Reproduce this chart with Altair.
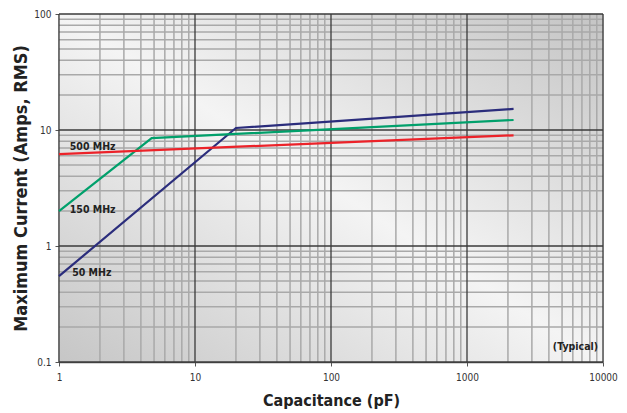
import altair as alt
import pandas as pd

# ---- data ----
cap_50 = [1, 20, 2200]
cur_50 = [0.55, 10.4, 15.2]
cap_150 = [1, 4.8, 2200]
cur_150 = [2.0, 8.5, 12.2]
cap_500 = [1, 2200]
cur_500 = [6.2, 9.0]

series_names = ["50 MHz", "150 MHz", "500 MHz"]
series_colors = ["#2b2d7c", "#00a06b", "#ec2229"]

label_text = ["500 MHz", "150 MHz", "50 MHz"]
label_x = [1.2, 1.2, 1.25]
label_y = [7.1, 2.04, 0.585]

x_major = [1, 10, 100, 1000, 10000]
y_major = [0.1, 1, 10, 100]
x_minor = [m * d for d in [1, 10, 100, 1000] for m in range(2, 10)]
y_minor = [m * d for d in [0.1, 1, 10] for m in range(2, 10)]

W, H = 544, 348
FONT = "DejaVu Sans Condensed, Liberation Sans, sans-serif"

xs = alt.Scale(type="log", domain=[1, 10000], nice=False)
ys = alt.Scale(type="log", domain=[0.1, 100], nice=False)

xaxis = alt.Axis(
    values=x_major, format="~g", title="Capacitance (pF)", grid=False,
    domainColor="#555", domainWidth=1.5, tickColor="#555", tickSize=4,
    labelFont=FONT, labelFontSize=10, labelColor="#333", labelPadding=6,
    titleFont=FONT, titleFontSize=16, titleFontWeight="bold", titleColor="#222",
    titlePadding=10, labelFlush=False,
)
yaxis = alt.Axis(
    values=y_major, format="~g", title="Maximum Current (Amps, RMS)", grid=False,
    domainColor="#555", domainWidth=1.5, tickColor="#555", tickSize=4,
    labelFont=FONT, labelFontSize=10, labelColor="#333", labelPadding=4,
    titleFont=FONT, titleFontSize=18, titleFontWeight="bold", titleColor="#222",
    titlePadding=3, labelFlush=False,
)

bg = alt.Chart(pd.DataFrame({"a": [0]})).mark_rect(
    fill=alt.LinearGradient(
        gradient="linear",
        stops=[
            alt.GradientStop(color="#c6c6c6", offset=0),
            alt.GradientStop(color="#f4f4f4", offset=0.5),
            alt.GradientStop(color="#c4c4c4", offset=1),
        ],
        x1=0, y1=1, x2=1, y2=0,
    )
).encode(x=alt.value(0), x2=alt.value(W), y=alt.value(0), y2=alt.value(H))

xminor = alt.Chart(pd.DataFrame({"v": x_minor})).mark_rule(
    color="#a9a9a9", strokeWidth=1.5
).encode(x=alt.X("v:Q", scale=xs, axis=xaxis))
yminor = alt.Chart(pd.DataFrame({"v": y_minor})).mark_rule(
    color="#a9a9a9", strokeWidth=1.5
).encode(y=alt.Y("v:Q", scale=ys, axis=yaxis))
xmajor = alt.Chart(pd.DataFrame({"v": x_major})).mark_rule(
    color="#3a3a3a", strokeWidth=1.3
).encode(x=alt.X("v:Q", scale=xs, axis=xaxis))
ymajor = alt.Chart(pd.DataFrame({"v": y_major})).mark_rule(
    color="#3a3a3a", strokeWidth=1.3
).encode(y=alt.Y("v:Q", scale=ys, axis=yaxis))

rows = []
for name, cx, cy in zip(series_names, [cap_50, cap_150, cap_500], [cur_50, cur_150, cur_500]):
    for i, (a, b) in enumerate(zip(cx, cy)):
        rows.append({"series": name, "cap": a, "cur": b, "o": i})
lines_df = pd.DataFrame(rows)

lines = alt.Chart(lines_df).mark_line(strokeWidth=2.2).encode(
    x=alt.X("cap:Q", scale=xs, axis=xaxis),
    y=alt.Y("cur:Q", scale=ys, axis=yaxis),
    color=alt.Color("series:N", scale=alt.Scale(domain=series_names, range=series_colors), legend=None),
    order="o:Q",
)

labels = alt.Chart(pd.DataFrame({"t": label_text, "x": label_x, "y": label_y})).mark_text(
    align="left", baseline="middle", font=FONT, fontSize=10.5, fontWeight="bold", color="#222"
).encode(x=alt.X("x:Q", scale=xs, axis=xaxis), y=alt.Y("y:Q", scale=ys, axis=yaxis), text="t:N")

typical = alt.Chart(pd.DataFrame({"t": ["(Typical)"], "x": [9200], "y": [0.135]})).mark_text(
    align="right", baseline="middle", font=FONT, fontSize=10.5, fontWeight="bold", color="#222"
).encode(x=alt.X("x:Q", scale=xs, axis=xaxis), y=alt.Y("y:Q", scale=ys, axis=yaxis), text="t:N")

chart = alt.layer(bg, xminor, yminor, xmajor, ymajor, lines, labels, typical).properties(
    width=W, height=H,
    autosize=alt.AutoSizeParams(type="none"),
    padding={"left": 51, "top": 6, "right": 16, "bottom": 51},
).configure_view(stroke=None).configure(background="white")

chart.save("out.html", embed_options={"renderer": "svg", "actions": False})
